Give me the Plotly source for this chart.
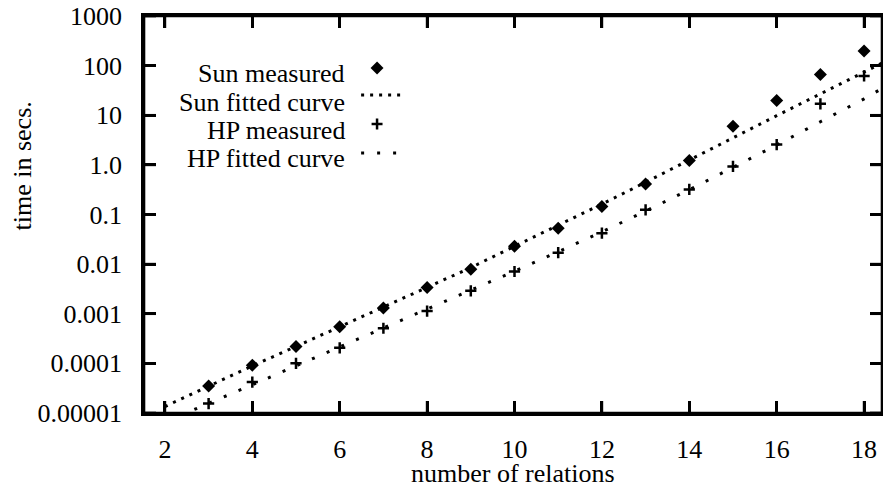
import math
import plotly.graph_objects as go

# ---------------- data ----------------
n_measured = [3, 4, 5, 6, 7, 8, 9, 10, 11, 12, 13, 14, 15, 16, 17, 18]
sun_measured = [3.5e-5, 9.2e-5, 2.2e-4, 5.5e-4, 1.3e-3, 3.4e-3, 7.9e-3, 0.023,
                0.053, 0.145, 0.41, 1.23, 6.0, 19.8, 66, 196]
hp_measured = [1.55e-5, 4.2e-5, 1.0e-4, 2.06e-4, 5.1e-4, 1.13e-3, 2.9e-3, 7.1e-3,
               0.017, 0.042, 0.124, 0.32, 0.93, 2.57, 17, 62]

n_fit = [2, 3, 4, 5, 6, 7, 8, 9, 10, 11, 12, 13, 14, 15, 16, 17, 18, 18.45]
sun_fit = [1.35e-5, 3.47e-5, 8.9e-5, 2.19e-4, 5.5e-4, 1.35e-3, 3.39e-3, 8.5e-3,
           0.0229, 0.0603, 0.162, 0.447, 1.26, 3.55, 9.8, 26.9, 74, 117]
hp_fit = [6.6e-6, 1.55e-5, 3.7e-5, 8.9e-5, 2.14e-4, 5.1e-4, 1.2e-3, 2.95e-3,
          7.2e-3, 0.0178, 0.0447, 0.117, 0.316, 0.89, 2.51, 7.4, 21.4, 36.3]

x_ticks = [2, 4, 6, 8, 10, 12, 14, 16, 18]
y_tickvals = [1e-5, 1e-4, 1e-3, 1e-2, 1e-1, 1, 10, 100, 1000]
y_ticktext = ["0.00001", "0.0001", "0.001", "0.01", "0.1", "1.0", "10", "100", "1000"]

legend_labels = ["Sun measured", "Sun fitted curve", "HP measured", "HP fitted curve"]

# ---------------- style / layout constants ----------------
W, H = 886, 489
ML, MR, MT, MB = 144, 1, 16, 76
FONT = "Liberation Serif, Times New Roman, serif"
FS = 26
SUN_DASH = "3px,6px"
HP_DASH = "3px,13px"
X_RANGE = [1.5214, 18.41]
Y_RANGE_LOG = [-5, 3]
TICKLEN = 12
FRAME_W = 2.6
plot_w = W - ML - MR
plot_h = H - MT - MB


def px(x):
    return (x - ML) / plot_w


def py(y):
    return (H - MB - y) / plot_h


fig = go.Figure()

fig.add_trace(go.Scatter(x=n_fit, y=sun_fit, mode="lines",
                         line=dict(color="black", width=3, dash=SUN_DASH),
                         showlegend=False, hoverinfo="skip"))
fig.add_trace(go.Scatter(x=n_fit, y=hp_fit, mode="lines",
                         line=dict(color="black", width=3, dash=HP_DASH),
                         showlegend=False, hoverinfo="skip"))
fig.add_trace(go.Scatter(x=n_measured, y=sun_measured, mode="markers",
                         marker=dict(symbol="diamond", size=10, color="black"),
                         showlegend=False))
fig.add_trace(go.Scatter(x=n_measured, y=hp_measured, mode="markers",
                         marker=dict(symbol="cross-thin", size=8,
                                     line=dict(color="black", width=2.5)),
                         showlegend=False))

shapes = []
# ---------------- frame and inward ticks ----------------
for (x0, y0, x1, y1) in ((0, 0, 1, 0), (0, 1, 1, 1), (0, 0, 0, 1), (1, 0, 1, 1)):
    shapes.append(dict(type="line", xref="paper", yref="paper",
                       x0=x0, y0=y0, x1=x1, y1=y1, opacity=1,
                       line=dict(color="black", width=FRAME_W), layer="above"))
for t in x_ticks:
    for anchor, sign in ((0, 1), (1, -1)):
        shapes.append(dict(type="line", xref="x", yref="paper", x0=t, x1=t,
                           ysizemode="pixel", yanchor=anchor, y0=0, y1=sign * TICKLEN,
                           opacity=1, line=dict(color="black", width=FRAME_W),
                           layer="above"))
for v in y_tickvals:
    fy = (math.log10(v) - Y_RANGE_LOG[0]) / (Y_RANGE_LOG[1] - Y_RANGE_LOG[0])
    for anchor, sign in ((0, 1), (1, -1)):
        shapes.append(dict(type="line", xref="paper", yref="paper", y0=fy, y1=fy,
                           xsizemode="pixel", xanchor=anchor, x0=0, x1=sign * TICKLEN,
                           opacity=1, line=dict(color="black", width=FRAME_W),
                           layer="above"))

# ---------------- hand-made legend (gnuplot style: text then sample) ----------------
LEG_TEXT_X = 348
LEG_TEXT_Y = [73.5, 102, 130.5, 159]
LEG_SYM_X = 378
LEG_SYM_Y = [68, 95, 124, 153]
LEG_LINE_X = [[362, 406], [362, 403]]
DIA = 6.5
CRS = 5.5

cx, cy = LEG_SYM_X, LEG_SYM_Y[0]
shapes.append(dict(type="path", xref="paper", yref="paper",
                   path=(f"M {px(cx - DIA)},{py(cy)} L {px(cx)},{py(cy - DIA)} "
                         f"L {px(cx + DIA)},{py(cy)} L {px(cx)},{py(cy + DIA)} Z"),
                   fillcolor="black", line=dict(width=0), opacity=1))
shapes.append(dict(type="line", xref="paper", yref="paper",
                   x0=px(LEG_LINE_X[0][0]), x1=px(LEG_LINE_X[0][1]),
                   y0=py(LEG_SYM_Y[1]), y1=py(LEG_SYM_Y[1]), opacity=1,
                   line=dict(color="black", width=3, dash=SUN_DASH)))
cx, cy = LEG_SYM_X, LEG_SYM_Y[2]
shapes.append(dict(type="line", xref="paper", yref="paper",
                   x0=px(cx - CRS), x1=px(cx + CRS), y0=py(cy), y1=py(cy), opacity=1,
                   line=dict(color="black", width=2.5)))
shapes.append(dict(type="line", xref="paper", yref="paper",
                   x0=px(cx), x1=px(cx), y0=py(cy - CRS), y1=py(cy + CRS), opacity=1,
                   line=dict(color="black", width=2.5)))
shapes.append(dict(type="line", xref="paper", yref="paper",
                   x0=px(LEG_LINE_X[1][0]), x1=px(LEG_LINE_X[1][1]),
                   y0=py(LEG_SYM_Y[3]), y1=py(LEG_SYM_Y[3]), opacity=1,
                   line=dict(color="black", width=3, dash=HP_DASH)))

annotations = []
for lab, yy in zip(legend_labels, LEG_TEXT_Y):
    annotations.append(dict(text=lab, x=px(LEG_TEXT_X), y=py(yy),
                            xref="paper", yref="paper",
                            xanchor="right", yanchor="middle", showarrow=False,
                            font=dict(family=FONT, size=FS, color="black")))
annotations.append(dict(text="time in secs.", textangle=-90,
                        x=px(23), y=py(166),
                        xref="paper", yref="paper", xanchor="center", yanchor="middle",
                        showarrow=False, font=dict(family=FONT, size=FS, color="black")))
annotations.append(dict(text="number of relations",
                        x=px(514), y=py(473),
                        xref="paper", yref="paper", xanchor="center", yanchor="middle",
                        showarrow=False, font=dict(family=FONT, size=FS, color="black")))

axis_font = dict(family=FONT, size=FS, color="black")
fig.update_layout(
    width=W, height=H,
    margin=dict(l=ML, r=MR, t=MT, b=MB, pad=0),
    paper_bgcolor="white", plot_bgcolor="white",
    font=axis_font,
    xaxis=dict(range=X_RANGE, tickmode="array", tickvals=x_ticks,
               ticks="inside", ticklen=TICKLEN, tickwidth=FRAME_W, tickcolor="black",
               showline=True, linewidth=FRAME_W, linecolor="black", mirror="ticks",
               showgrid=False, zeroline=False,
               tickfont=axis_font, ticklabelstandoff=11),
    yaxis=dict(type="log", range=Y_RANGE_LOG, tickmode="array", tickvals=y_tickvals,
               ticktext=y_ticktext, ticks="inside", ticklen=TICKLEN,
               tickwidth=FRAME_W, tickcolor="black", showline=True,
               linewidth=FRAME_W, linecolor="black", mirror="ticks", showgrid=False,
               zeroline=False, tickfont=axis_font, ticklabelstandoff=14),
    shapes=shapes,
    annotations=annotations,
    showlegend=False,
)

fig.write_html("out.html",
               config={"displayModeBar": False},
               post_script="document.body.style.margin='0';"
                           "document.body.style.overflow='hidden';"
                           "document.documentElement.style.overflow='hidden';")
